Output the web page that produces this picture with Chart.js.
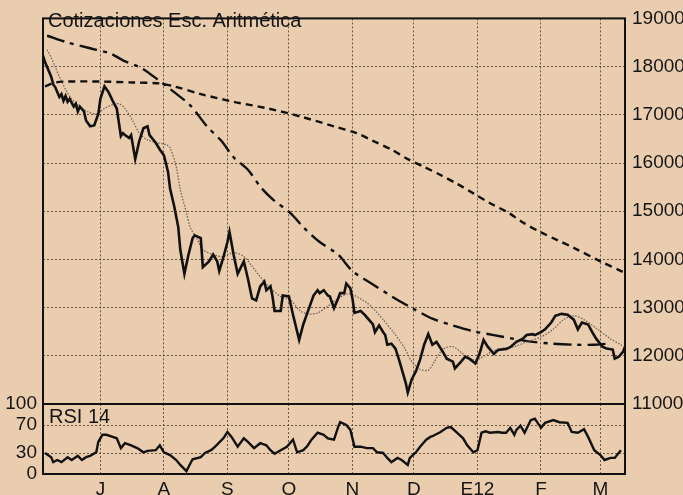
<!DOCTYPE html>
<html>
<head>
<meta charset="utf-8">
<script src="https://cdn.jsdelivr.net/npm/chart.js@4.4.1/dist/chart.umd.min.js"></script>
<style>
  html, body { margin: 0; padding: 0; background: #e9cdae; }
  #cadre { position: relative; width: 683px; height: 495px; background: #e9cdae; overflow: hidden; }
  #cadre canvas { position: absolute; left: 0; top: 0; }
</style>
</head>
<body>
<div id="cadre">
  <canvas id="graficoPrecio" width="683" height="495"></canvas>
  <canvas id="graficoRsi" width="683" height="495"></canvas>
</div>
<script>
// ---------- DATOS (eje x = días desde el 1 de julio) ----------
const mesDias = [0, 31, 62, 92, 123, 153, 184, 215, 244];
const mesEtiquetas = ["J", "A", "S", "O", "N", "D", "E12", "F", "M"];
const rsiTicks = [0, 30, 70, 100];

// cotización (línea negra gruesa)
const precioDias = [-28,-27,-26,-24,-23,-22,-21,-20,-19,-18,-17,-16,-15,-13,-12,-11,-10,-8,-7,-5,-3,-1,0,2,4,6,8,10,11,12,14,15,17,19,21,23,24,27,29,31,33,34,36,38,39,41,43,45,46,49,50,53,55,57,58,60,62,63,65,67,70,72,74,76,78,80,81,83,84,85,88,89,92,94,97,99,101,104,106,107,109,111,112,114,116,117,119,120,122,123,124,127,129,131,133,134,136,138,139,140,142,144,146,149,150,152,154,156,158,160,162,164,167,169,172,173,176,178,180,183,185,187,189,192,194,198,200,203,206,208,211,212,215,217,220,222,225,228,231,233,235,238,240,242,245,247,250,251,253,255,256];
const precioValores = [18230,18090,17990,17790,17630,17570,17470,17370,17430,17290,17390,17270,17330,17170,17230,17070,17170,17070,16880,16760,16780,17020,17330,17590,17470,17290,17130,16560,16620,16580,16520,16580,16080,16460,16720,16760,16580,16420,16280,16160,15820,15470,15110,14670,14200,13700,14100,14440,14500,14440,13840,13960,14100,13960,13760,14040,14360,14570,14100,13700,13960,13600,13190,13150,13440,13540,13360,13440,13230,12930,12930,13250,13230,12850,12330,12650,12890,13250,13360,13300,13360,13250,13230,12990,13190,13300,13300,13500,13400,13190,12890,12930,12850,12750,12650,12490,12630,12490,12430,12230,12250,12150,11880,11440,11240,11520,11680,11920,12230,12450,12230,12290,12090,11940,11880,11740,11880,11980,11940,11840,12040,12330,12190,12040,12120,12140,12180,12290,12350,12430,12450,12430,12490,12550,12690,12830,12870,12850,12750,12550,12690,12650,12490,12350,12190,12150,12130,11940,11980,12080,12190];

// media corta (línea gris punteada)
const mediaCortaDias = [-26,-24,-22,-20,-17,-14,-10,-6,-2,2,6,9,12,16,19,23,28,32,34,37,39,42,44,47,50,55,60,65,70,74,78,83,88,93,97,101,106,111,116,121,124,129,133,138,143,148,152,156,160,163,167,172,177,182,185,189,195,202,208,215,221,226,231,236,242,249,254,255];
const mediaCortaValores = [18350,18190,17990,17790,17530,17330,17170,17060,17020,17130,17210,17230,17130,16860,16620,16480,16420,16380,16320,15920,15450,14970,14650,14440,14200,14100,14060,14140,14060,13860,13640,13400,13230,13150,12950,12870,12890,13030,13190,13290,13250,13130,12990,12750,12490,12190,11880,11720,11700,11880,12130,12190,12040,11920,11940,12040,12150,12190,12290,12390,12550,12750,12830,12750,12570,12350,12230,12190];

// media larga (trazos cortos)
const mediaLargaDias = [-27,-22,-16,0,16,29,36,49,65,82,98,114,125,133,142,150,158,166,174,182,190,199,206,215,223,231,244,255];
const mediaLargaValores = [17590,17670,17690,17690,17670,17650,17590,17430,17270,17130,16960,16760,16620,16460,16280,16080,15920,15750,15570,15370,15170,14970,14770,14560,14400,14240,13960,13740];

// media intermedia (trazo y punto)
const mediaMediaDias = [-26,-16,-5,5,11,20,28,36,44,52,59,65,72,78,84,93,99,107,116,123,133,143,153,162,172,182,192,202,211,221,231,241,247];
const mediaMediaValores = [18640,18500,18380,18270,18130,17970,17730,17470,17190,16760,16460,16120,15860,15510,15250,14950,14670,14360,14100,13760,13480,13210,12970,12770,12630,12510,12430,12350,12290,12250,12230,12230,12250];

// RSI 14
const rsiDias = [-27,-24,-23,-21,-19,-16,-14,-11,-9,-7,-5,-2,-1,1,3,6,8,10,12,15,18,21,23,27,29,31,34,37,39,42,43,45,49,51,54,56,60,62,64,67,70,72,75,78,81,83,85,88,91,94,96,99,101,103,106,109,111,114,116,117,120,122,124,127,130,133,135,138,140,142,145,147,150,151,154,156,159,161,162,166,169,171,174,177,179,182,184,186,188,190,194,196,198,200,202,203,205,207,210,212,215,217,221,224,228,230,233,236,238,241,244,246,249,251,254];
const rsiValores = [30,24,17,20,17,24,20,26,20,24,26,31,46,56,56,53,51,37,44,41,37,31,33,34,41,31,27,20,13,4,10,21,24,30,34,39,51,60,53,39,51,46,37,44,41,34,29,34,39,49,31,34,40,49,59,56,51,49,67,74,70,63,39,39,37,37,31,30,23,17,23,20,13,23,31,39,49,53,54,60,66,67,59,51,41,31,34,59,61,59,60,59,59,66,56,63,69,59,77,79,66,73,77,74,73,60,59,64,53,34,27,20,23,23,34];

// ---------- ESTILOS COMUNES ----------
const fuente = '"Liberation Sans", Arial, sans-serif';
const colorRejilla = "rgba(85,65,45,0.85)";
const aPuntos = (dias, valores) => dias.map((d, i) => ({ x: d, y: valores[i] }));

// marco negro + texto dentro del área
function pluginMarco(texto, xTexto, yTexto) {
  return {
    id: "marco",
    afterDraw(chart) {
      const { ctx, chartArea: a } = chart;
      ctx.save();
      ctx.strokeStyle = "#111";
      ctx.lineWidth = 2;
      ctx.strokeRect(a.left, a.top, a.right - a.left, a.bottom - a.top);
      ctx.fillStyle = "#151515";
      ctx.font = "20px " + fuente;
      ctx.textBaseline = "alphabetic";
      ctx.fillText(texto, xTexto, yTexto);
      ctx.restore();
    }
  };
}

function ejeX(conEtiquetas) {
  return {
    type: "linear",
    min: -28,
    max: 256,
    afterBuildTicks: (eje) => { eje.ticks = mesDias.map(v => ({ value: v })); },
    afterFit: (eje) => { eje.height = conEtiquetas ? 21 : 0; },
    grid: { color: colorRejilla, lineWidth: 1, drawTicks: false },
    border: { display: false, dash: [2, 2] },
    ticks: {
      display: conEtiquetas,
      padding: 4,
      color: "#151515",
      font: { family: fuente, size: 19 },
      maxRotation: 0,
      autoSkip: false,
      callback: (v) => mesEtiquetas[mesDias.indexOf(v)] ?? ""
    }
  };
}

// ---------- GRÁFICO PRINCIPAL ----------
new Chart(document.getElementById("graficoPrecio"), {
  type: "line",
  data: {
    datasets: [
      { label: "Cotización", data: aPuntos(precioDias, precioValores), borderColor: "#111", borderWidth: 2.6, pointRadius: 0, tension: 0 },
      { label: "Media corta", data: aPuntos(mediaCortaDias, mediaCortaValores), borderColor: "#6a5d52", borderWidth: 1.2, borderDash: [1.5, 1.5], pointRadius: 0, tension: 0.3 },
      { label: "Media intermedia", data: aPuntos(mediaMediaDias, mediaMediaValores), borderColor: "#111", borderWidth: 2.4, borderDash: [18, 6, 4, 6], pointRadius: 0, tension: 0.3 },
      { label: "Media larga", data: aPuntos(mediaLargaDias, mediaLargaValores), borderColor: "#111", borderWidth: 2.4, borderDash: [7, 5], pointRadius: 0, tension: 0.3 }
    ]
  },
  options: {
    responsive: false,
    animation: false,
    devicePixelRatio: 1,
    layout: { padding: { left: 43, top: 7, right: 0, bottom: 91 } },
    plugins: { legend: { display: false }, tooltip: { enabled: false } },
    scales: {
      x: ejeX(false),
      y: {
        position: "right",
        min: 11000,
        max: 19000,
        afterFit: (eje) => { eje.width = 58; },
        grid: { color: colorRejilla, lineWidth: 1, drawTicks: false },
        border: { display: false, dash: [2, 2] },
        ticks: {
          stepSize: 1000, padding: 7, autoSkip: false, color: "#151515",
          font: { family: fuente, size: 19 },
          callback: (v) => String(v)
        }
      }
    }
  },
  plugins: [pluginMarco("Cotizaciones Esc. Aritmética", 48, 27)]
});

// ---------- GRÁFICO RSI ----------
new Chart(document.getElementById("graficoRsi"), {
  type: "line",
  data: {
    datasets: [
      { label: "RSI 14", data: aPuntos(rsiDias, rsiValores), borderColor: "#111", borderWidth: 2.4, pointRadius: 0, tension: 0 }
    ]
  },
  options: {
    responsive: false,
    animation: false,
    devicePixelRatio: 1,
    layout: { padding: { left: 0, top: 404, right: 58, bottom: 0 } },
    plugins: { legend: { display: false }, tooltip: { enabled: false } },
    scales: {
      x: ejeX(true),
      y: {
        position: "left",
        min: 0,
        max: 100,
        afterBuildTicks: (eje) => { eje.ticks = rsiTicks.map(v => ({ value: v })); },
        afterFit: (eje) => { eje.width = 43; },
        grid: { color: colorRejilla, lineWidth: 1, drawTicks: false },
        border: { display: false, dash: [2, 2] },
        ticks: {
          padding: 6, autoSkip: false, color: "#151515",
          font: { family: fuente, size: 19 },
          callback: (v) => String(v)
        }
      }
    }
  },
  plugins: [pluginMarco("RSI 14", 49, 423)]
});
</script>
</body>
</html>
